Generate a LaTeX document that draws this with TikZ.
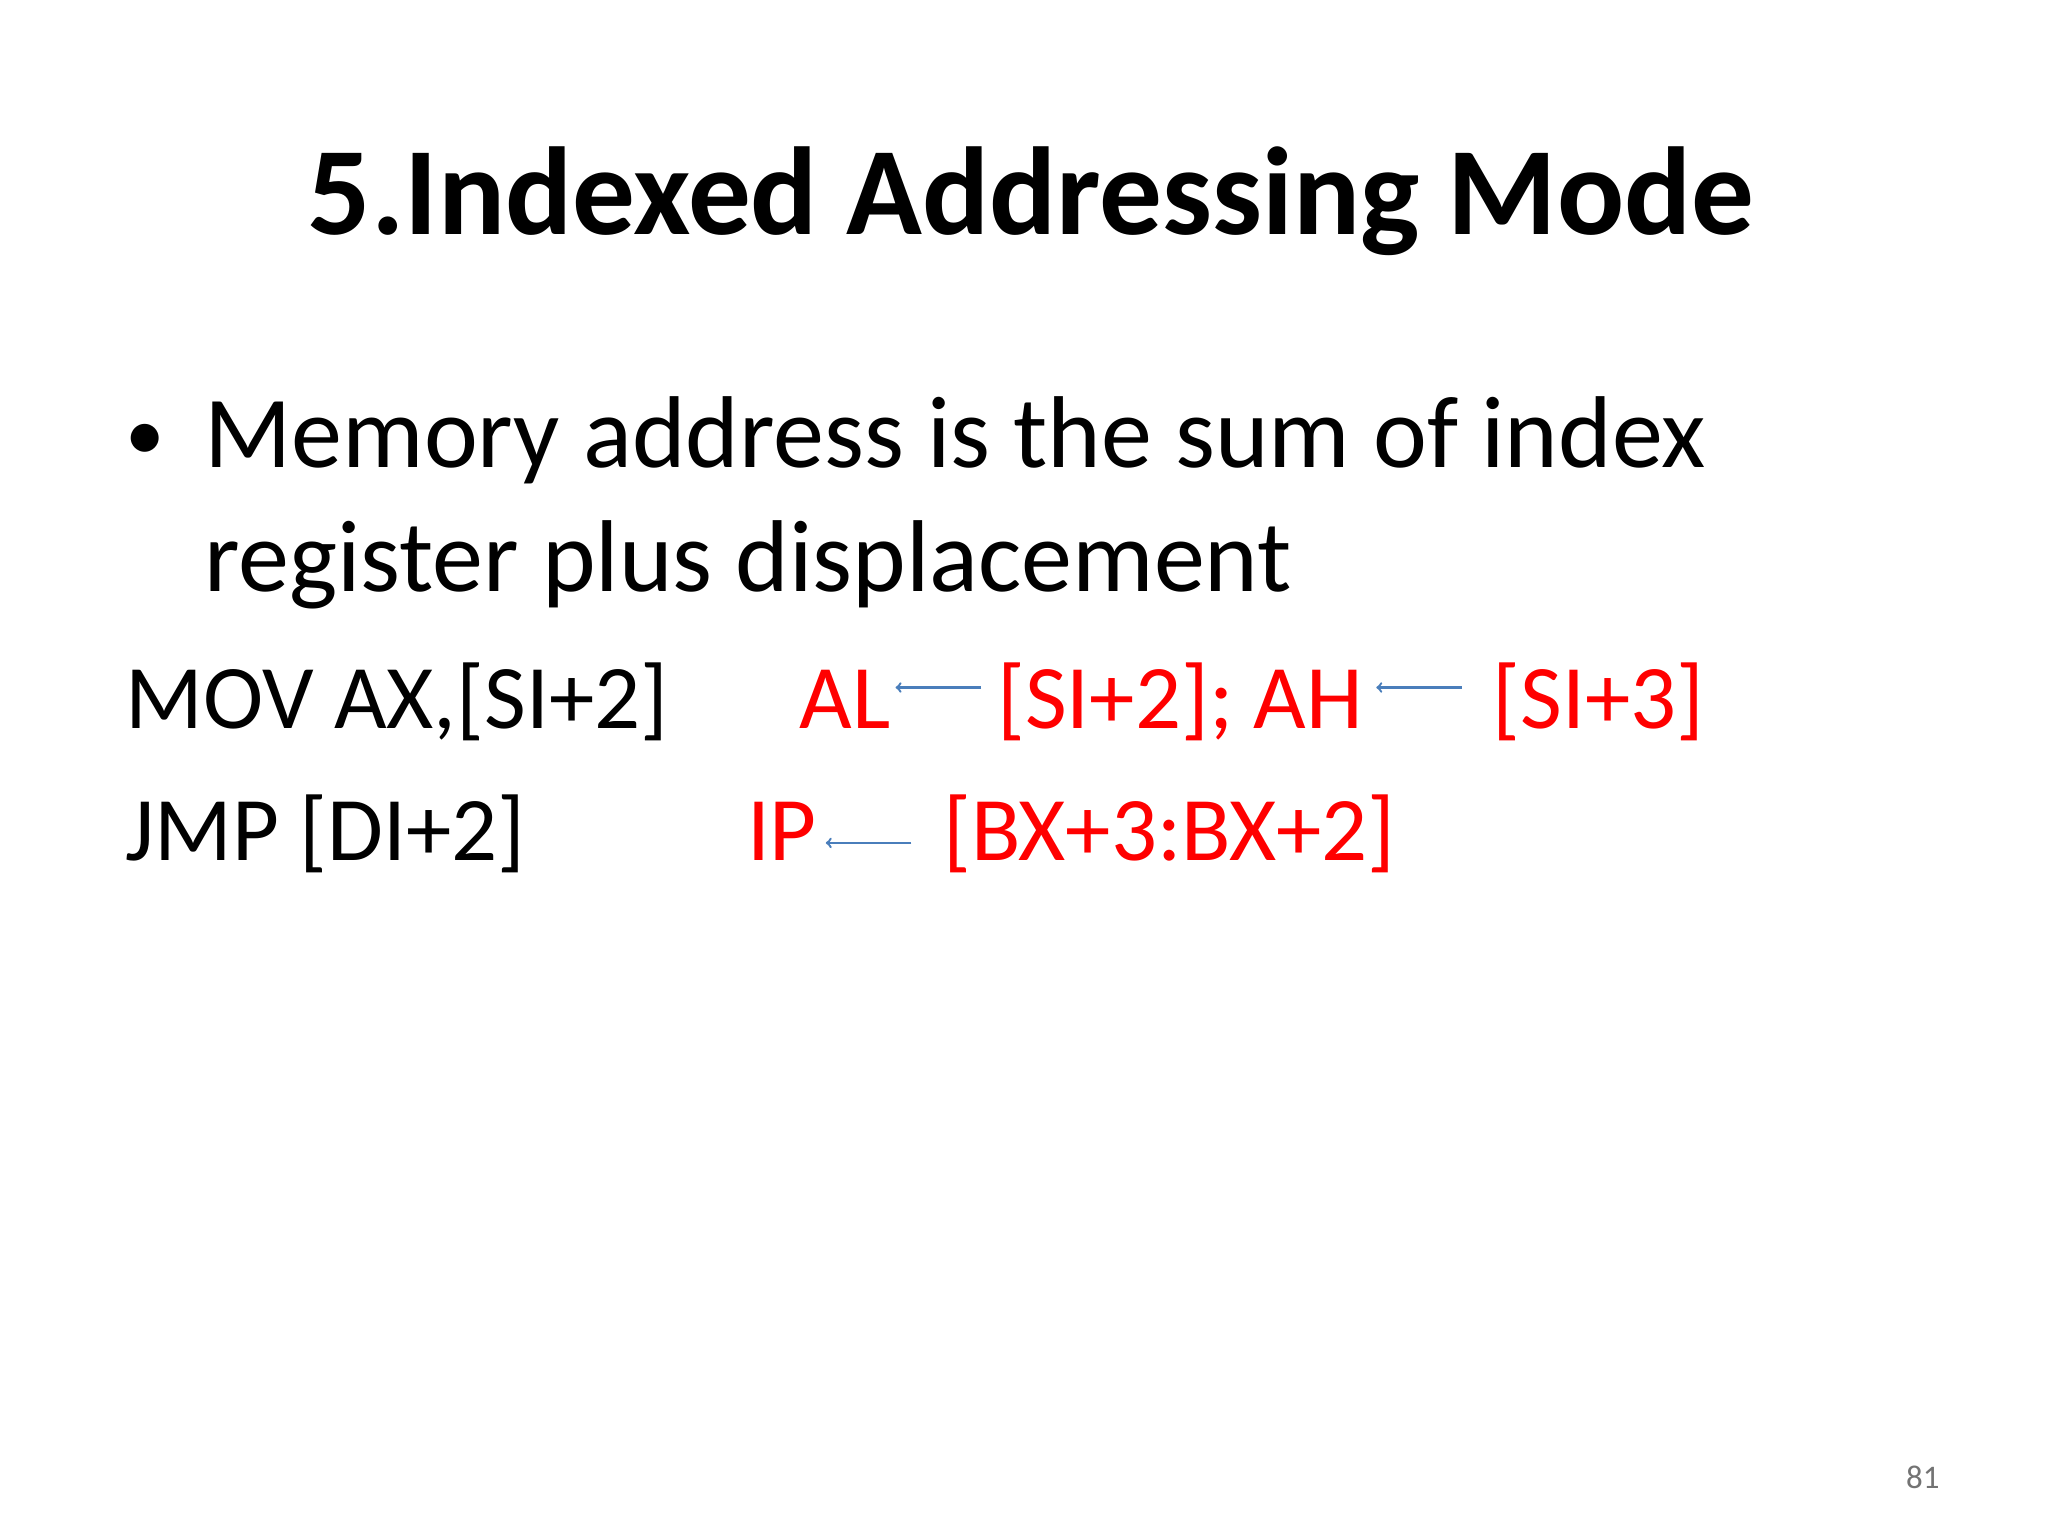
\documentclass[tikz,border=0pt]{standalone}
\usepackage{fontspec}
\setmainfont{Carlito}
\usetikzlibrary{positioning}
\definecolor{slideRed}{RGB}{255,0,0}
\definecolor{arrowBlue}{RGB}{74,126,187}

\begin{document}
\begin{tikzpicture}
  [x=1pt,y=-1pt,
   title/.style={anchor=base,inner sep=0pt,font=\fontsize{95}{105}\selectfont\bfseries},
   body/.style={anchor=base west,inner sep=0pt,font=\fontsize{77.5}{90}\selectfont},
   code/.style={anchor=base west,inner sep=0pt,font=\fontsize{69}{82}\selectfont},
   result/.style={code,text=slideRed},
   loadarrow/.style={arrowBlue,line width=1.8pt,-{to[scale=1.6]}}]
  \useasboundingbox (0,0) rectangle (1555,1166);
  \node[title]  (heading) at (783,178) {5.Indexed Addressing Mode};
  \node[body,font=\fontsize{60}{70}\selectfont] (bullet) at (95,350) {•};
  \node[body]   (line one) at (155,355) {Memory address is the sum of index};
  \node[body]   (line two) at (155,449) {register plus displacement};
  \node[code]   (mov)     at (95,553)  {MOV AX,[SI+2]};
  \node[result] (al)      at (607,553) {AL};
  \node[result] (si two)  at (757,553) {[SI+2]; AH};
  \node[result] (si three) at (1133,553) {[SI+3]};
  \node[code]   (jmp)     at (95,653)  {JMP [DI+2]};
  \node[result] (ip)      at (567,653) {IP};
  \node[result] (bx)      at (716,653) {[BX+3:BX+2]};
  \coordinate (al tail) at (745,522);
  \coordinate (al tip)  at (680,522);
  \coordinate (ah tail) at (1110,522);
  \coordinate (ah tip)  at (1045,522);
  \coordinate (ip tail) at (692,640);
  \coordinate (ip tip)  at (627,640);
  \draw[loadarrow] (al tail) -- (al tip);
  \draw[loadarrow] (ah tail) -- (ah tip);
  \draw[loadarrow] (ip tail) -- (ip tip);
  \node[anchor=base,inner sep=0pt,text=black!55,font=\fontsize{25}{30}\selectfont]
    (page) at (1460,1130) {81};
\end{tikzpicture}
\end{document}
